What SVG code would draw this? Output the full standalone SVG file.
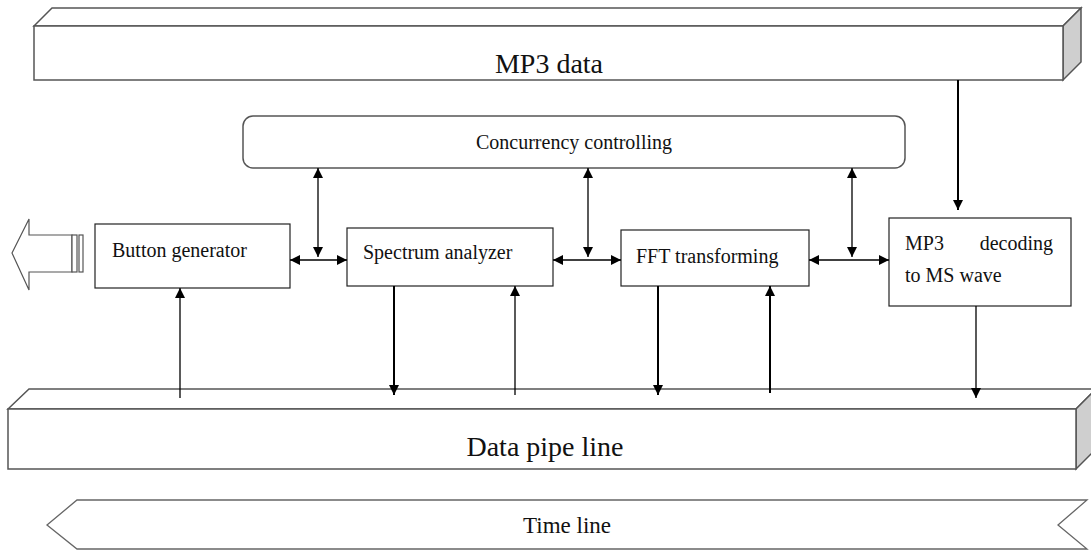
<svg xmlns="http://www.w3.org/2000/svg" width="1091" height="550" viewBox="0 0 1091 550">
<defs>
<marker id="ah" viewBox="0 0 10 10" refX="10" refY="5" markerWidth="12" markerHeight="10" markerUnits="userSpaceOnUse" orient="auto-start-reverse">
<path d="M0,0 L10,5 L0,10 z" fill="#000"/>
</marker>
<style>
.box3d{fill:#fff;stroke:#555;stroke-width:1.5}
.side{fill:#cfcfcf;stroke:#555;stroke-width:1.5}
.box{fill:#fff;stroke:#222;stroke-width:1.2}
.lbl{font-family:"Liberation Serif",serif;fill:#111}
.c{stroke:#000;stroke-width:1.3;fill:none}
.ct{stroke:#000;stroke-width:2;fill:none}
</style>
</defs>
<rect width="1091" height="550" fill="#fff"/>

<g id="mp3data">
<polygon class="box3d" points="34,26 52,8 1081,8 1063,26"/>
<polygon class="side" points="1063,26 1081,8 1081,62 1063,80"/>
<rect class="box3d" x="34" y="26" width="1029" height="54"/>
<text class="lbl" x="549" y="73" font-size="28" text-anchor="middle">MP3 data</text>
</g>

<g id="concurrency">
<rect class="box3d" x="243" y="116" width="662" height="52" rx="10"/>
<text class="lbl" x="574" y="149" font-size="20" text-anchor="middle">Concurrency controlling</text>
</g>

<g id="output-arrow">
<polygon fill="#fff" stroke="#555" stroke-width="1.2" points="12,253 29,219 29,235 72,235 72,272 29,272 29,290"/>
<rect x="72" y="235" width="5" height="37" fill="#fff" stroke="#555" stroke-width="1.2"/>
<rect x="79" y="235" width="4" height="37" fill="#fff" stroke="#555" stroke-width="1.2"/>
</g>

<g id="button">
<rect class="box" x="95" y="224" width="195" height="64"/>
<text class="lbl" x="112" y="257" font-size="20">Button generator</text>
</g>

<g id="spectrum">
<rect class="box" x="347" y="228" width="206" height="58"/>
<text class="lbl" x="363" y="259" font-size="20">Spectrum analyzer</text>
</g>

<g id="fft">
<rect class="box" x="621" y="230" width="188" height="56"/>
<text class="lbl" x="636" y="263" font-size="20">FFT transforming</text>
</g>

<g id="decoding">
<rect class="box" x="889" y="218" width="182" height="88"/>
<text class="lbl" x="905" y="250" font-size="20">MP3</text>
<text class="lbl" x="1053" y="250" font-size="20" text-anchor="end">decoding</text>
<text class="lbl" x="905" y="282" font-size="20">to MS wave</text>
</g>

<g id="pipeline">
<polygon class="box3d" points="8,409 29,389 1096,389 1076,409"/>
<polygon class="side" points="1076,409 1096,389 1096,449 1076,469"/>
<rect class="box3d" x="8" y="409" width="1068" height="60"/>
<text class="lbl" x="545" y="456" font-size="28" text-anchor="middle">Data pipe line</text>
</g>

<g id="timeline">
<polygon fill="#fff" stroke="#666" stroke-width="1.3" points="47,525 77,500 1087,500 1058,525 1087,549 77,549"/>
<text class="lbl" x="567" y="533" font-size="23" text-anchor="middle">Time line</text>
</g>

<g id="connectors">
<line class="ct" x1="958" y1="80" x2="958" y2="210" marker-end="url(#ah)"/>
<line class="c" x1="318" y1="168" x2="318" y2="257" marker-start="url(#ah)" marker-end="url(#ah)"/>
<line class="c" x1="588" y1="168" x2="588" y2="257" marker-start="url(#ah)" marker-end="url(#ah)"/>
<line class="c" x1="852" y1="168" x2="852" y2="257" marker-start="url(#ah)" marker-end="url(#ah)"/>
<line class="c" x1="290" y1="260" x2="347" y2="260" marker-start="url(#ah)" marker-end="url(#ah)"/>
<line class="c" x1="553" y1="260" x2="621" y2="260" marker-start="url(#ah)" marker-end="url(#ah)"/>
<line class="c" x1="809" y1="260" x2="889" y2="260" marker-start="url(#ah)" marker-end="url(#ah)"/>
<line class="c" x1="180" y1="398" x2="180" y2="288" marker-end="url(#ah)"/>
<line class="ct" x1="394" y1="286" x2="394" y2="395" marker-end="url(#ah)"/>
<line class="c" x1="515" y1="395" x2="515" y2="286" marker-end="url(#ah)"/>
<line class="ct" x1="658" y1="286" x2="658" y2="395" marker-end="url(#ah)"/>
<line class="ct" x1="770" y1="393" x2="770" y2="286" marker-end="url(#ah)"/>
<line class="c" x1="976" y1="306" x2="976" y2="398" marker-end="url(#ah)"/>
</g>
</svg>
